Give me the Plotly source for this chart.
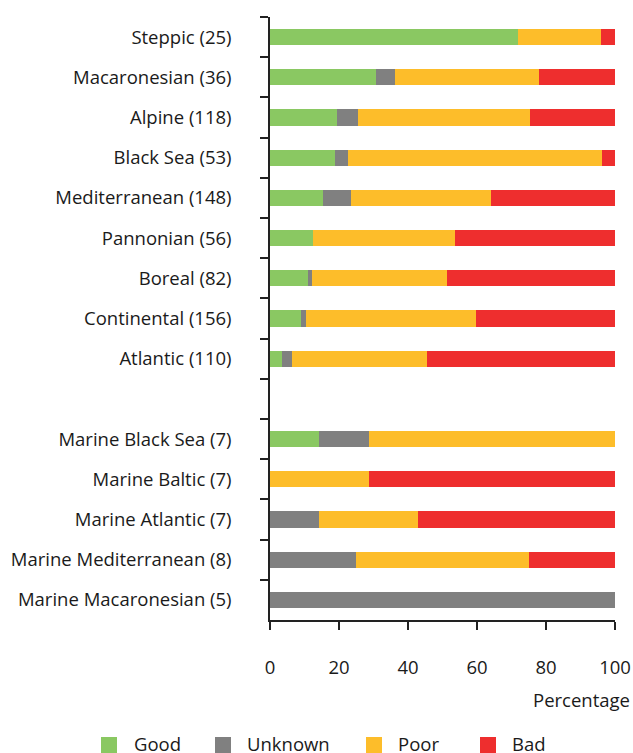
import plotly.graph_objects as go

categories = ["Steppic (25)", "Macaronesian (36)", "Alpine (118)", "Black Sea (53)",
              "Mediterranean (148)", "Pannonian (56)", "Boreal (82)", "Continental (156)",
              "Atlantic (110)", " ", "Marine Black Sea (7)", "Marine Baltic (7)",
              "Marine Atlantic (7)", "Marine Mediterranean (8)", "Marine Macaronesian (5)"]

good =    [72.0, 30.6, 19.5, 18.9, 15.5, 12.5, 11.0, 9.0, 3.6, None, 14.3, 0, 0, 0, 0]
unknown = [0, 5.6, 5.9, 3.8, 8.1, 0, 1.2, 1.3, 2.7, None, 14.3, 0, 14.3, 25.0, 100.0]
poor =    [24.0, 41.7, 50.0, 73.6, 40.5, 41.1, 39.0, 49.4, 39.1, None, 71.4, 28.6, 28.6, 50.0, 0]
bad =     [4.0, 22.2, 24.6, 3.8, 35.8, 46.4, 48.8, 40.4, 54.5, None, 0, 71.4, 57.1, 25.0, 0]

series_names = ["Good", "Unknown", "Poor", "Bad"]
series_values = [good, unknown, poor, bad]
colors = ["#8ac862", "#808080", "#fdbd2a", "#ee2e2e"]

FONT = "Open Sans"
FS = 18.5
TXT = "#1a1a1a"

W, H = 633, 753
ML, MT = 270, 17
MR = W - 615
MB = H - 620
PW = W - ML - MR
PH = H - MT - MB

fig = go.Figure()
for name, vals, col in zip(series_names, series_values, colors):
    fig.add_trace(go.Bar(
        y=categories, x=vals, name=name, orientation="h",
        marker=dict(color=col, line=dict(width=0)),
        width=0.4, showlegend=False,
    ))

fig.update_layout(
    width=W, height=H,
    margin=dict(l=ML, r=MR, t=MT, b=MB, pad=0, autoexpand=False),
    barmode="stack",
    plot_bgcolor="white", paper_bgcolor="white",
    font=dict(family=FONT, size=FS, color=TXT),
)
fig.update_yaxes(
    type="category", categoryorder="array", categoryarray=categories,
    range=[len(categories) - 0.5, -0.5], automargin=False,
    showline=True, linecolor="#222", linewidth=1.5,
    ticks="outside", tickson="boundaries", ticklen=8, tickwidth=1.5, tickcolor="#222",
    ticklabelstandoff=33, showgrid=False, zeroline=False,
    tickfont=dict(family=FONT, size=FS, color=TXT),
)
fig.update_xaxes(
    range=[0, 100], tickvals=[0, 20, 40, 60, 80, 100], automargin=False,
    showline=True, linecolor="#222", linewidth=1.5,
    ticks="outside", ticklen=8, tickwidth=1.5, tickcolor="#222",
    ticklabelstandoff=22, showgrid=False, zeroline=False,
    tickfont=dict(family=FONT, size=FS, color=TXT),
)

def px2paper_x(px):
    return (px - ML) / PW

def px2paper_y(py):
    return (H - MB - py) / PH

fig.add_annotation(text="Percentage", xref="paper", yref="paper",
                   x=px2paper_x(632), y=px2paper_y(699),
                   xanchor="right", yanchor="middle", showarrow=False,
                   font=dict(family=FONT, size=FS, color=TXT))

# legend drawn as shapes + text
sq_x = [101, 215, 366, 480]
txt_x = [132, 245, 396, 510]
leg_y = 745
sq = 16

for name, col, sx, tx in zip(series_names, colors, sq_x, txt_x):
    fig.add_shape(type="rect", xref="paper", yref="paper",
                  x0=px2paper_x(sx), x1=px2paper_x(sx + sq),
                  y0=px2paper_y(leg_y + sq / 2), y1=px2paper_y(leg_y - sq / 2),
                  fillcolor=col, line=dict(width=0))
    fig.add_annotation(text=name, xref="paper", yref="paper",
                       x=px2paper_x(tx), y=px2paper_y(leg_y - 2),
                       xanchor="left", yanchor="middle", showarrow=False,
                       font=dict(family=FONT, size=FS, color=TXT))

fig.write_html(
    "out.html",
    config={"displayModeBar": False},
    post_script="document.body.style.margin='0';document.body.style.overflow='hidden';",
)
